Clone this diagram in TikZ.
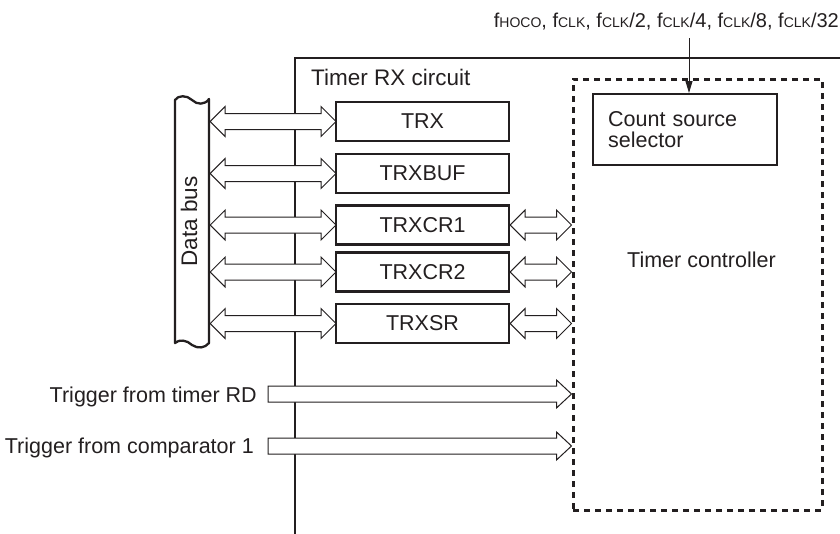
\documentclass[tikz,border=0pt]{standalone}
\usepackage{fontspec}
\setmainfont{Liberation Sans}
\usetikzlibrary{calc,arrows.meta}
\definecolor{ink}{HTML}{231F20}
\tikzset{
  regbox/.style={draw=ink, line width=2.3pt, minimum width=173pt, minimum height=39pt, inner sep=0pt, text=ink, font=\fontsize{21.5}{21.5}\selectfont},
  arr/.style={draw=ink, line width=1pt, fill=white, line join=miter},
  lbl/.style={inner sep=0pt, text=ink, font=\fontsize{21.5}{21.5}\selectfont},
  outline/.style={draw=ink, line width=2.3pt},
}
\newcommand{\dblarrow}[2]{%
  \draw[arr] (#1) -- ++(15,-15) -- ++(0,7) -- ($(#2)+(-15,-8)$) -- ++(0,-7) -- (#2) -- ++(-15,15) -- ++(0,-7) -- ($(#1)+(15,8)$) -- ++(0,7) -- cycle;}
\newcommand{\sglarrow}[2]{%
  \draw[arr] ($(#1)+(0,-8)$) -- ($(#2)+(-15,-8)$) -- ++(0,-6) -- (#2) -- ++(-15,14) -- ++(0,-6) -- ($(#1)+(0,8)$) -- cycle;}
\newcommand{\sbs}[1]{{\fontsize{14}{14}\selectfont #1}}
\begin{document}
\begin{tikzpicture}[x=1pt,y=-1pt]
\useasboundingbox (0,0) rectangle (840,533);
% circuit outline
\draw[outline, line join=miter] (295,534) -- (295,58) -- (841,58);
\node[lbl, font=\fontsize{22.5}{22.5}\selectfont, anchor=base west] (title) at (311,85) {Timer RX circuit};
% data bus
\draw[outline, fill=white, line join=round] (175,343) -- (175,100)
  .. controls (178,95) and (187,95) .. (192,100)
  .. controls (197,105) and (205,105) .. (209,99) -- (209,343)
  .. controls (205,348) and (198,349) .. (192,345)
  .. controls (187,340) and (179,339) .. (175,343) -- cycle;
\node[inner sep=0pt, minimum width=35pt, minimum height=243pt] (bus) at (192.5,221.5) {};
\node[lbl, font=\fontsize{22.5}{22.5}\selectfont, rotate=90] (dbl) at (189,221.5) {Data bus};
% controller
\node[draw=ink, line width=3pt, dash pattern=on 6pt off 5pt, minimum width=249pt, minimum height=431pt, inner sep=0pt] (ctrl) at (697.5,294.5) {};
\node[lbl, anchor=base west] (tc) at (627,267) {Timer controller};
\node[draw=ink, line width=2.3pt, anchor=north west, minimum height=71pt, text width=154pt, inner xsep=15pt, inner ysep=0pt, align=left, text=ink, font=\fontsize{21.5}{21.5}\selectfont] (css) at (592,93) {Count source\\selector};
% clock input
\node[lbl, font=\fontsize{20}{20}\selectfont, anchor=base east] (clkl) at (839,27) {f\sbs{HOCO}, f\sbs{CLK}, f\sbs{CLK}/2, f\sbs{CLK}/4, f\sbs{CLK}/8, f\sbs{CLK}/32};
\coordinate (clk) at (689,38);
\draw[ink, line width=1pt, -{Triangle[length=12pt,width=7pt]}] (clk) -- (clk |- css.north);
% registers
\coordinate (trxp) at (422.5,121.5);
\coordinate (bufp) at (422.5,173.5);
\coordinate (cr1p) at (422.5,225);
\coordinate (cr2p) at (422.5,272);
\coordinate (srp) at (422.5,323.5);
\coordinate (l1) at (bus.east |- trxp);
\coordinate (l2) at (bus.east |- bufp);
\coordinate (l3) at (bus.east |- cr1p);
\coordinate (l4) at (bus.east |- cr2p);
\coordinate (l5) at (bus.east |- srp);
\coordinate (r1) at (336,121.5);
\coordinate (r2) at (336,173.5);
\coordinate (r3) at (336,225);
\coordinate (r4) at (336,272);
\coordinate (r5) at (336,323.5);
\dblarrow{l1}{r1}
\dblarrow{l2}{r2}
\dblarrow{l3}{r3}
\dblarrow{l4}{r4}
\dblarrow{l5}{r5}
\node[regbox] (trx) at (trxp) {TRX};
\node[regbox] (buf) at (bufp) {TRXBUF};
\node[regbox] (cr1) at (cr1p) {TRXCR1};
\node[regbox] (cr2) at (cr2p) {TRXCR2};
\node[regbox] (sr) at (srp) {TRXSR};
\coordinate (c1) at (ctrl.west |- cr1.east);
\coordinate (c2) at (ctrl.west |- cr2.east);
\coordinate (c3) at (ctrl.west |- sr.east);
\dblarrow{cr1.east}{c1}
\dblarrow{cr2.east}{c2}
\dblarrow{sr.east}{c3}
% triggers
\node[lbl, anchor=base east] (t1) at (257,402) {Trigger from timer RD};
\node[lbl, anchor=base east] (t2) at (254,453) {Trigger from comparator 1};
\coordinate (s1) at (268,394);
\coordinate (s2) at (268,446);
\coordinate (e1) at (ctrl.west |- s1);
\coordinate (e2) at (ctrl.west |- s2);
\sglarrow{s1}{e1}
\sglarrow{s2}{e2}
\end{tikzpicture}
\end{document}
